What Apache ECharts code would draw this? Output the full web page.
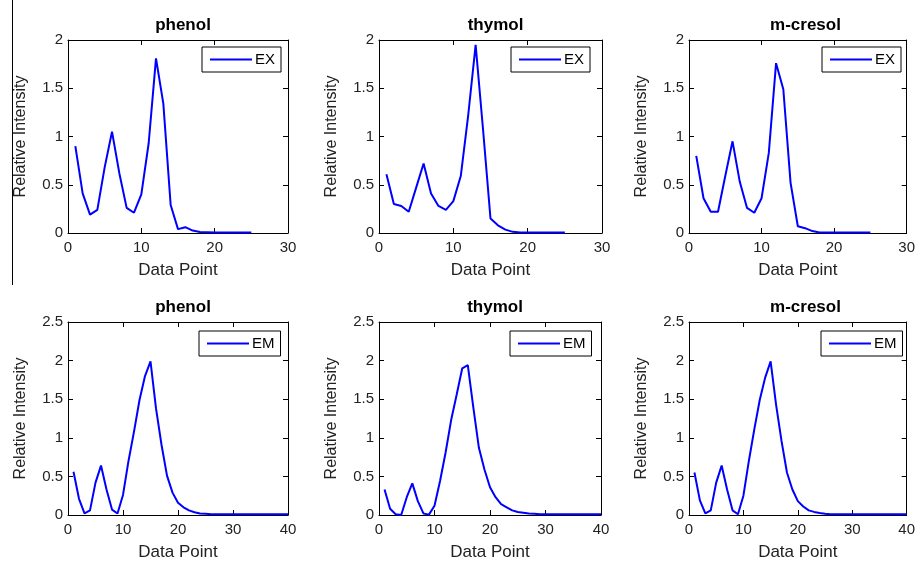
<!DOCTYPE html>
<html>
<head>
<meta charset="utf-8">
<title>EX / EM profiles</title>
<script src="https://cdn.jsdelivr.net/npm/echarts@6/dist/echarts.min.js"></script>
<style>
  html, body { margin: 0; padding: 0; background: #fff; }
  #main { width: 918px; height: 562px; }
</style>
</head>
<body>
<div id="main"></div>
<script type="text/javascript">
// data points (x = point number, starting at 1)
var titles = ['phenol', 'thymol', 'm-cresol'];

var exPhenol = [0.90, 0.41, 0.19, 0.24, 0.68, 1.05, 0.62, 0.26, 0.21, 0.40, 0.93, 1.81, 1.34, 0.29, 0.04, 0.06, 0.025, 0.01, 0.008, 0.006, 0.005, 0.005, 0.005, 0.005, 0.005];
var exThymol = [0.61, 0.30, 0.28, 0.22, 0.47, 0.72, 0.41, 0.28, 0.24, 0.33, 0.59, 1.22, 1.95, 1.07, 0.15, 0.08, 0.035, 0.012, 0.006, 0.005, 0.005, 0.005, 0.005, 0.005, 0.005];
var exCresol = [0.80, 0.36, 0.22, 0.22, 0.59, 0.95, 0.53, 0.26, 0.21, 0.36, 0.83, 1.76, 1.49, 0.52, 0.07, 0.05, 0.02, 0.006, 0.005, 0.005, 0.005, 0.005, 0.005, 0.005, 0.005];

var emPhenol = [0.56, 0.21, 0.02, 0.06, 0.42, 0.64, 0.33, 0.07, 0.02, 0.26, 0.70, 1.08, 1.49, 1.80, 1.99, 1.38, 0.91, 0.51, 0.29, 0.16, 0.10, 0.06, 0.035, 0.02, 0.015, 0.01, 0.01, 0.01, 0.01, 0.01, 0.01, 0.01, 0.01, 0.01, 0.01, 0.01, 0.01, 0.01, 0.01, 0.01];
var emThymol = [0.33, 0.08, 0.01, 0.0, 0.23, 0.41, 0.18, 0.02, 0.005, 0.12, 0.44, 0.81, 1.23, 1.56, 1.90, 1.94, 1.39, 0.87, 0.59, 0.36, 0.23, 0.14, 0.10, 0.06, 0.04, 0.03, 0.02, 0.015, 0.01, 0.01, 0.01, 0.01, 0.01, 0.01, 0.01, 0.01, 0.01, 0.01, 0.01, 0.01];
var emCresol = [0.55, 0.19, 0.02, 0.06, 0.42, 0.64, 0.33, 0.06, 0.01, 0.25, 0.70, 1.11, 1.49, 1.78, 1.99, 1.43, 0.96, 0.55, 0.33, 0.18, 0.11, 0.06, 0.04, 0.025, 0.015, 0.01, 0.01, 0.01, 0.01, 0.01, 0.01, 0.01, 0.01, 0.01, 0.01, 0.01, 0.01, 0.01, 0.01, 0.01];

var exX = { min: 0, max: 30, interval: 10 };
var emX = { min: 0, max: 40, interval: 10 };
var exY = { min: 0, max: 2, interval: 0.5 };
var emY = { min: 0, max: 2.5, interval: 0.5 };

var font = "'Liberation Sans', Arial, sans-serif";
var blue = '#0000ff';

var panels = [
  { title: titles[0], name: 'EX', vals: exPhenol, xr: exX, yr: exY, left: 68,  top: 40,  w: 220, h: 193, lg: [202, 47] },
  { title: titles[1], name: 'EX', vals: exThymol, xr: exX, yr: exY, left: 379, top: 40,  w: 223, h: 193, lg: [511, 47] },
  { title: titles[2], name: 'EX', vals: exCresol, xr: exX, yr: exY, left: 689, top: 40,  w: 223, h: 193, lg: [822, 47] },
  { title: titles[0], name: 'EM', vals: emPhenol, xr: emX, yr: emY, left: 68,  top: 322, w: 220, h: 194, lg: [199, 331] },
  { title: titles[1], name: 'EM', vals: emThymol, xr: emX, yr: emY, left: 379, top: 322, w: 222, h: 194, lg: [510, 331] },
  { title: titles[2], name: 'EM', vals: emCresol, xr: emX, yr: emY, left: 689, top: 322, w: 223, h: 194, lg: [821, 331] }
];

var grid = [], xAxis = [], yAxis = [], series = [], legend = [], title = [];

panels.forEach(function (p, i) {
  grid.push({ left: p.left, top: p.top, width: p.w, height: p.h, containLabel: false });

  title.push({
    text: p.title,
    left: p.left + p.w / 2,
    top: p.top - 28,
    textAlign: 'center',
    textStyle: { fontFamily: font, fontSize: 17, fontWeight: 'bold', color: '#000' }
  });

  var line = { show: true, onZero: false, lineStyle: { color: '#000', width: 1 } };
  var tick = { show: true, inside: true, length: 5, lineStyle: { color: '#000' } };
  var lbl = { fontFamily: font, fontSize: 15, color: '#222' };

  xAxis.push({
    type: 'value', gridIndex: i, position: 'bottom',
    min: p.xr.min, max: p.xr.max, interval: p.xr.interval,
    name: 'Data Point', nameLocation: 'middle', nameGap: 29,
    nameTextStyle: { fontFamily: font, fontSize: 17, color: '#222' },
    axisLine: line, axisTick: tick, splitLine: { show: false },
    axisLabel: Object.assign({ margin: 7 }, lbl)
  });
  xAxis.push({
    type: 'value', gridIndex: i, position: 'top',
    min: p.xr.min, max: p.xr.max, interval: p.xr.interval,
    axisLine: line, axisTick: tick, splitLine: { show: false },
    axisLabel: { show: false }
  });
  yAxis.push({
    type: 'value', gridIndex: i, position: 'left',
    min: p.yr.min, max: p.yr.max, interval: p.yr.interval,
    name: 'Relative Intensity', nameLocation: 'middle', nameGap: 39,
    nameTextStyle: { fontFamily: font, fontSize: 16, color: '#222' },
    axisLine: line, axisTick: tick, splitLine: { show: false },
    axisLabel: Object.assign({ margin: 5 }, lbl)
  });
  yAxis.push({
    type: 'value', gridIndex: i, position: 'right',
    min: p.yr.min, max: p.yr.max, interval: p.yr.interval,
    axisLine: line, axisTick: tick, splitLine: { show: false },
    axisLabel: { show: false }
  });

  series.push({
    name: p.name, type: 'line',
    xAxisIndex: 2 * i, yAxisIndex: 2 * i,
    showSymbol: false, symbol: 'none',
    lineStyle: { color: blue, width: 2 },
    itemStyle: { color: blue },
    data: p.vals.map(function (v, k) { return [k + 1, v]; })
  });

  legend.push({
    data: [p.name],
    left: p.lg[0], top: p.lg[1],
    orient: 'vertical',
    backgroundColor: '#fff',
    borderColor: '#000', borderWidth: 1, borderRadius: 0,
    padding: [5, 6, 5, 8],
    icon: 'rect', itemWidth: 42, itemHeight: 2,
    textStyle: { fontFamily: font, fontSize: 15, color: '#000', padding: [0, 0, 0, -2] },
    selectedMode: false
  });
});

var dom = document.getElementById('main');
var myChart = echarts.init(dom, null, { renderer: 'canvas' });
var option = {
  backgroundColor: '#fff',
  animation: false,
  title: title,
  grid: grid,
  xAxis: xAxis,
  yAxis: yAxis,
  legend: legend,
  series: series,
  graphic: [{
    type: 'line',
    shape: { x1: 12.5, y1: 0, x2: 12.5, y2: 285 },
    style: { stroke: '#000', lineWidth: 1 }
  }]
};
myChart.setOption(option, true);
</script>
</body>
</html>
